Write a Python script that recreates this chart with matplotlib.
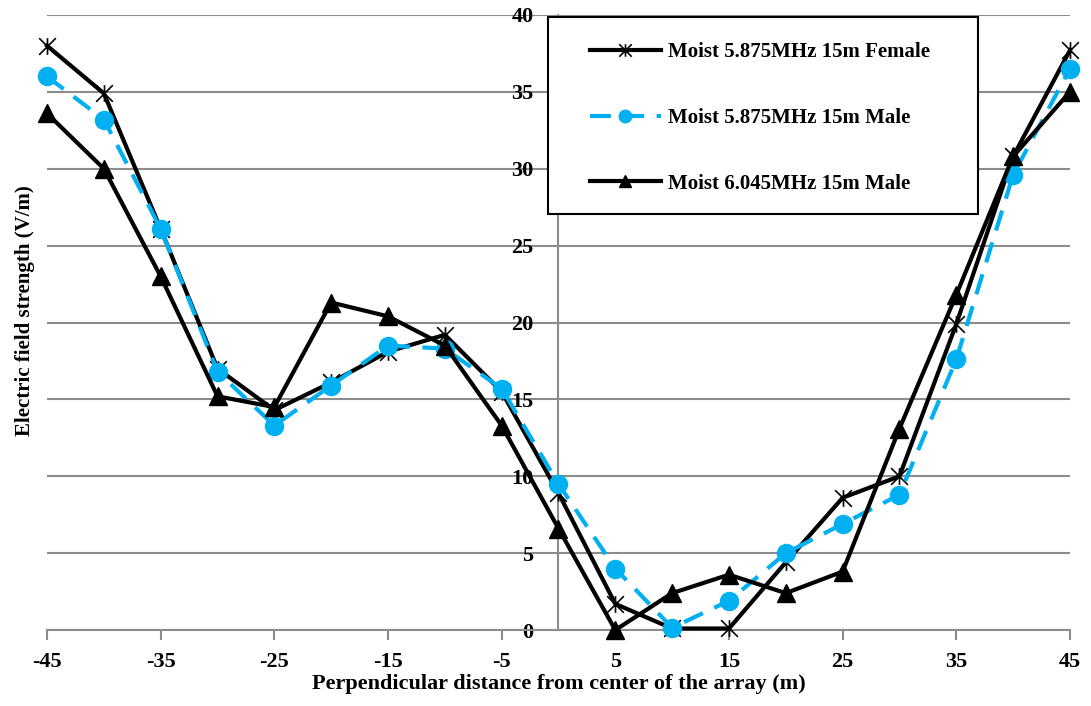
import numpy as np
import matplotlib.pyplot as plt
from matplotlib.path import Path
from matplotlib.patches import Rectangle

# perpendicular distance (m)
dist = [-45, -40, -35, -30, -25, -20, -15, -10, -5, 0, 5, 10, 15, 20, 25, 30, 35, 40, 45]

# electric field strength (V/m)
female_5875 = [38.0, 34.9, 26.1, 17.0, 14.3, 16.1, 18.1, 19.2, 15.5, 8.9, 1.7, 0.1, 0.1,
               4.4, 8.6, 10.0, 19.9, 30.8, 37.7]
male_5875 = [36.0, 33.2, 26.1, 16.8, 13.3, 15.9, 18.5, 18.3, 15.7, 9.5, 4.0, 0.15, 1.9,
             5.0, 6.9, 8.8, 17.6, 29.6, 36.5]
male_6045 = [33.6, 30.0, 23.0, 15.2, 14.5, 21.3, 20.4, 18.5, 13.3, 6.6, 0.0, 2.4, 3.6,
             2.4, 3.8, 13.1, 21.8, 30.8, 35.0]

labels = ["Moist 5.875MHz 15m Female", "Moist 5.875MHz 15m Male", "Moist 6.045MHz 15m Male"]
xticks = [-45, -35, -25, -15, -5, 5, 15, 25, 35, 45]
yticks = [0, 5, 10, 15, 20, 25, 30, 35, 40]

plt.rcParams['font.family'] = ['Liberation Serif', 'DejaVu Serif']
plt.rcParams['font.weight'] = 'bold'
plt.rcParams['axes.unicode_minus'] = False

# excel style star marker: an X with a vertical bar
star = Path([(-1, -1), (1, 1), (-1, 1), (1, -1), (0, -1), (0, 1)],
            [Path.MOVETO, Path.LINETO, Path.MOVETO, Path.LINETO, Path.MOVETO, Path.LINETO])

grey = '#8c8c8c'
fig = plt.figure(figsize=(10.91, 7.06), dpi=100)
ax = fig.add_axes([0.0431, 0.1076, 0.9376, 0.8712])

ax.plot(dist, female_5875, color='black', lw=3, marker=star, ms=12, mew=1.2,
        mfc='none', mec='black', label=labels[0], clip_on=False, zorder=3)
ax.plot(dist, male_5875, color='#00b0f0', lw=3, ls=(0, (5, 3)), marker='o', ms=13,
        label=labels[1], clip_on=False, zorder=4)
ax.plot(dist, male_6045, color='black', lw=3, marker='^', ms=13,
        label=labels[2], clip_on=False, zorder=5)

ax.set_xlim(-45, 45)
ax.set_ylim(0, 40)
ax.set_xticks(xticks)
ax.set_yticks(yticks)
ax.tick_params(axis='both', labelsize=16, color=grey, length=7, width=1.5, direction='out')
ax.tick_params(axis='x', pad=8.5)
ax.tick_params(axis='y', length=0, pad=18)

ax.yaxis.grid(True, color=grey, lw=1.5)
ax.set_axisbelow(True)
for s in ['top', 'right']:
    ax.spines[s].set_visible(False)
ax.spines['left'].set_position(('data', 0))
ax.spines['left'].set_color(grey)
ax.spines['left'].set_linewidth(1.5)
ax.spines['bottom'].set_color(grey)
ax.spines['bottom'].set_linewidth(1.5)

ax.set_xlabel("Perpendicular distance from center of the array (m)", fontsize=16,
              fontweight='bold', labelpad=2)
ax.set_ylabel("Electric field strength (V/m)", fontsize=15, fontweight='bold')
ax.yaxis.set_label_coords(-0.012, 0.52)

# legend box drawn separately so the padding can match the original
box = Rectangle((0.4897, 0.6764), 0.4204, 0.3203, transform=ax.transAxes, facecolor='white',
                edgecolor='black', lw=1.5, clip_on=False, zorder=6)
ax.add_patch(box)
leg = ax.legend(loc='upper left', bbox_to_anchor=(0.5308, 0.956), fontsize=15,
                frameon=False, handlelength=3.4, handletextpad=0.35, labelspacing=2.2,
                borderpad=0, borderaxespad=0, numpoints=1)
leg.set_zorder(7)
for h in leg.legend_handles:
    h.set_markersize(9)

fig.savefig('out.png', dpi=100)
